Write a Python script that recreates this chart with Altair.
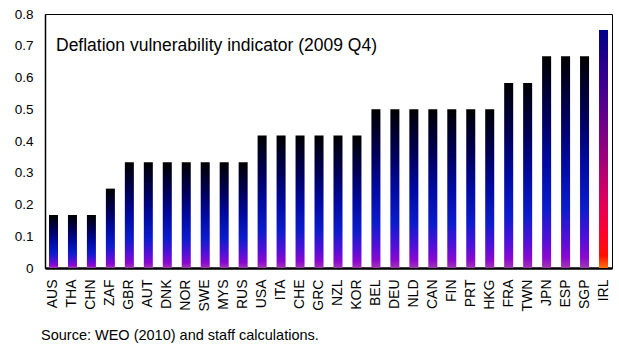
import altair as alt
import pandas as pd

countries = ["AUS", "THA", "CHN", "ZAF", "GBR", "AUT", "DNK", "NOR", "SWE", "MYS",
             "RUS", "USA", "ITA", "CHE", "GRC", "NZL", "KOR", "BEL", "DEU", "NLD",
             "CAN", "FIN", "PRT", "HKG", "FRA", "TWN", "JPN", "ESP", "SGP", "IRL"]
values = [0.167, 0.167, 0.167, 0.25, 0.333, 0.333, 0.333, 0.333, 0.333, 0.333,
          0.333, 0.417, 0.417, 0.417, 0.417, 0.417, 0.417, 0.5, 0.5, 0.5,
          0.5, 0.5, 0.5, 0.5, 0.583, 0.583, 0.667, 0.667, 0.667, 0.75]
y_ticks = [0, 0.1, 0.2, 0.3, 0.4, 0.5, 0.6, 0.7, 0.8]

df = pd.DataFrame({"country": countries, "value": values})

FONT = "Liberation Sans"

blue_fill = alt.Gradient(
    gradient="linear", x1=0, x2=0, y1=0, y2=1,
    stops=[
        alt.GradientStop(color="#000000", offset=0),
        alt.GradientStop(color="#000058", offset=0.28),
        alt.GradientStop(color="#000aa0", offset=0.5),
        alt.GradientStop(color="#0c1ccc", offset=0.72),
        alt.GradientStop(color="#5010d8", offset=0.86),
        alt.GradientStop(color="#8a08d0", offset=0.95),
        alt.GradientStop(color="#a038b0", offset=1),
    ],
)
hot_fill = alt.Gradient(
    gradient="linear", x1=0, x2=0, y1=0, y2=1,
    stops=[
        alt.GradientStop(color="#000088", offset=0),
        alt.GradientStop(color="#50008f", offset=0.3),
        alt.GradientStop(color="#900080", offset=0.5),
        alt.GradientStop(color="#d80060", offset=0.7),
        alt.GradientStop(color="#ff0030", offset=0.85),
        alt.GradientStop(color="#ff1000", offset=0.95),
        alt.GradientStop(color="#ff7010", offset=1),
    ],
)

x_enc = alt.X(
    "country:N", sort=countries,
    scale=alt.Scale(paddingInner=0.525, paddingOuter=0.21),
    axis=alt.Axis(title=None, labelAngle=270, labelFont=FONT, labelFontSize=14,
                  labelColor="#000000", labelPadding=11, ticks=False,
                  domainColor="#000000", domainWidth=2.5),
)
y_enc = alt.Y(
    "value:Q",
    scale=alt.Scale(domain=[0, 0.8], nice=False),
    axis=alt.Axis(title=None, values=y_ticks, grid=False, ticks=False,
                  labelFont=FONT, labelFontSize=13.5, labelColor="#000000",
                  labelPadding=12, domainColor="#000000", domainWidth=1.5,
                  labelExpr="datum.value == 0 ? '0' : format(datum.value, '.1f')"),
)

base = alt.Chart(df).encode(x=x_enc, y=y_enc)
bars = base.transform_filter("datum.country != 'IRL'").mark_bar(fill=blue_fill)
bar_top = base.transform_filter("datum.country == 'IRL'").mark_bar(fill=hot_fill)

one_row = pd.DataFrame({"k": [0]})
title_txt = alt.Chart(one_row).mark_text(
    text="Deflation vulnerability indicator (2009  Q4)", font=FONT, fontSize=17.5,
    align="left", baseline="alphabetic", color="#000000",
).encode(x=alt.value(11), y=alt.value(37))
source_txt = alt.Chart(one_row).mark_text(
    text="Source: WEO (2010) and staff calculations.", font=FONT, fontSize=14.5,
    align="left", baseline="alphabetic", color="#000000",
).encode(x=alt.value(-4), y=alt.value(326))

chart = alt.layer(bars, bar_top, title_txt, source_txt).properties(
    width=567, height=254,
    autosize=alt.AutoSizeParams(type="none"),
    padding={"left": 45, "top": 14, "right": 7, "bottom": 77},
    background="#ffffff",
).configure_view(stroke="#000000", strokeWidth=1)

chart.save("out.html", embed_options={"renderer": "svg", "actions": False})
